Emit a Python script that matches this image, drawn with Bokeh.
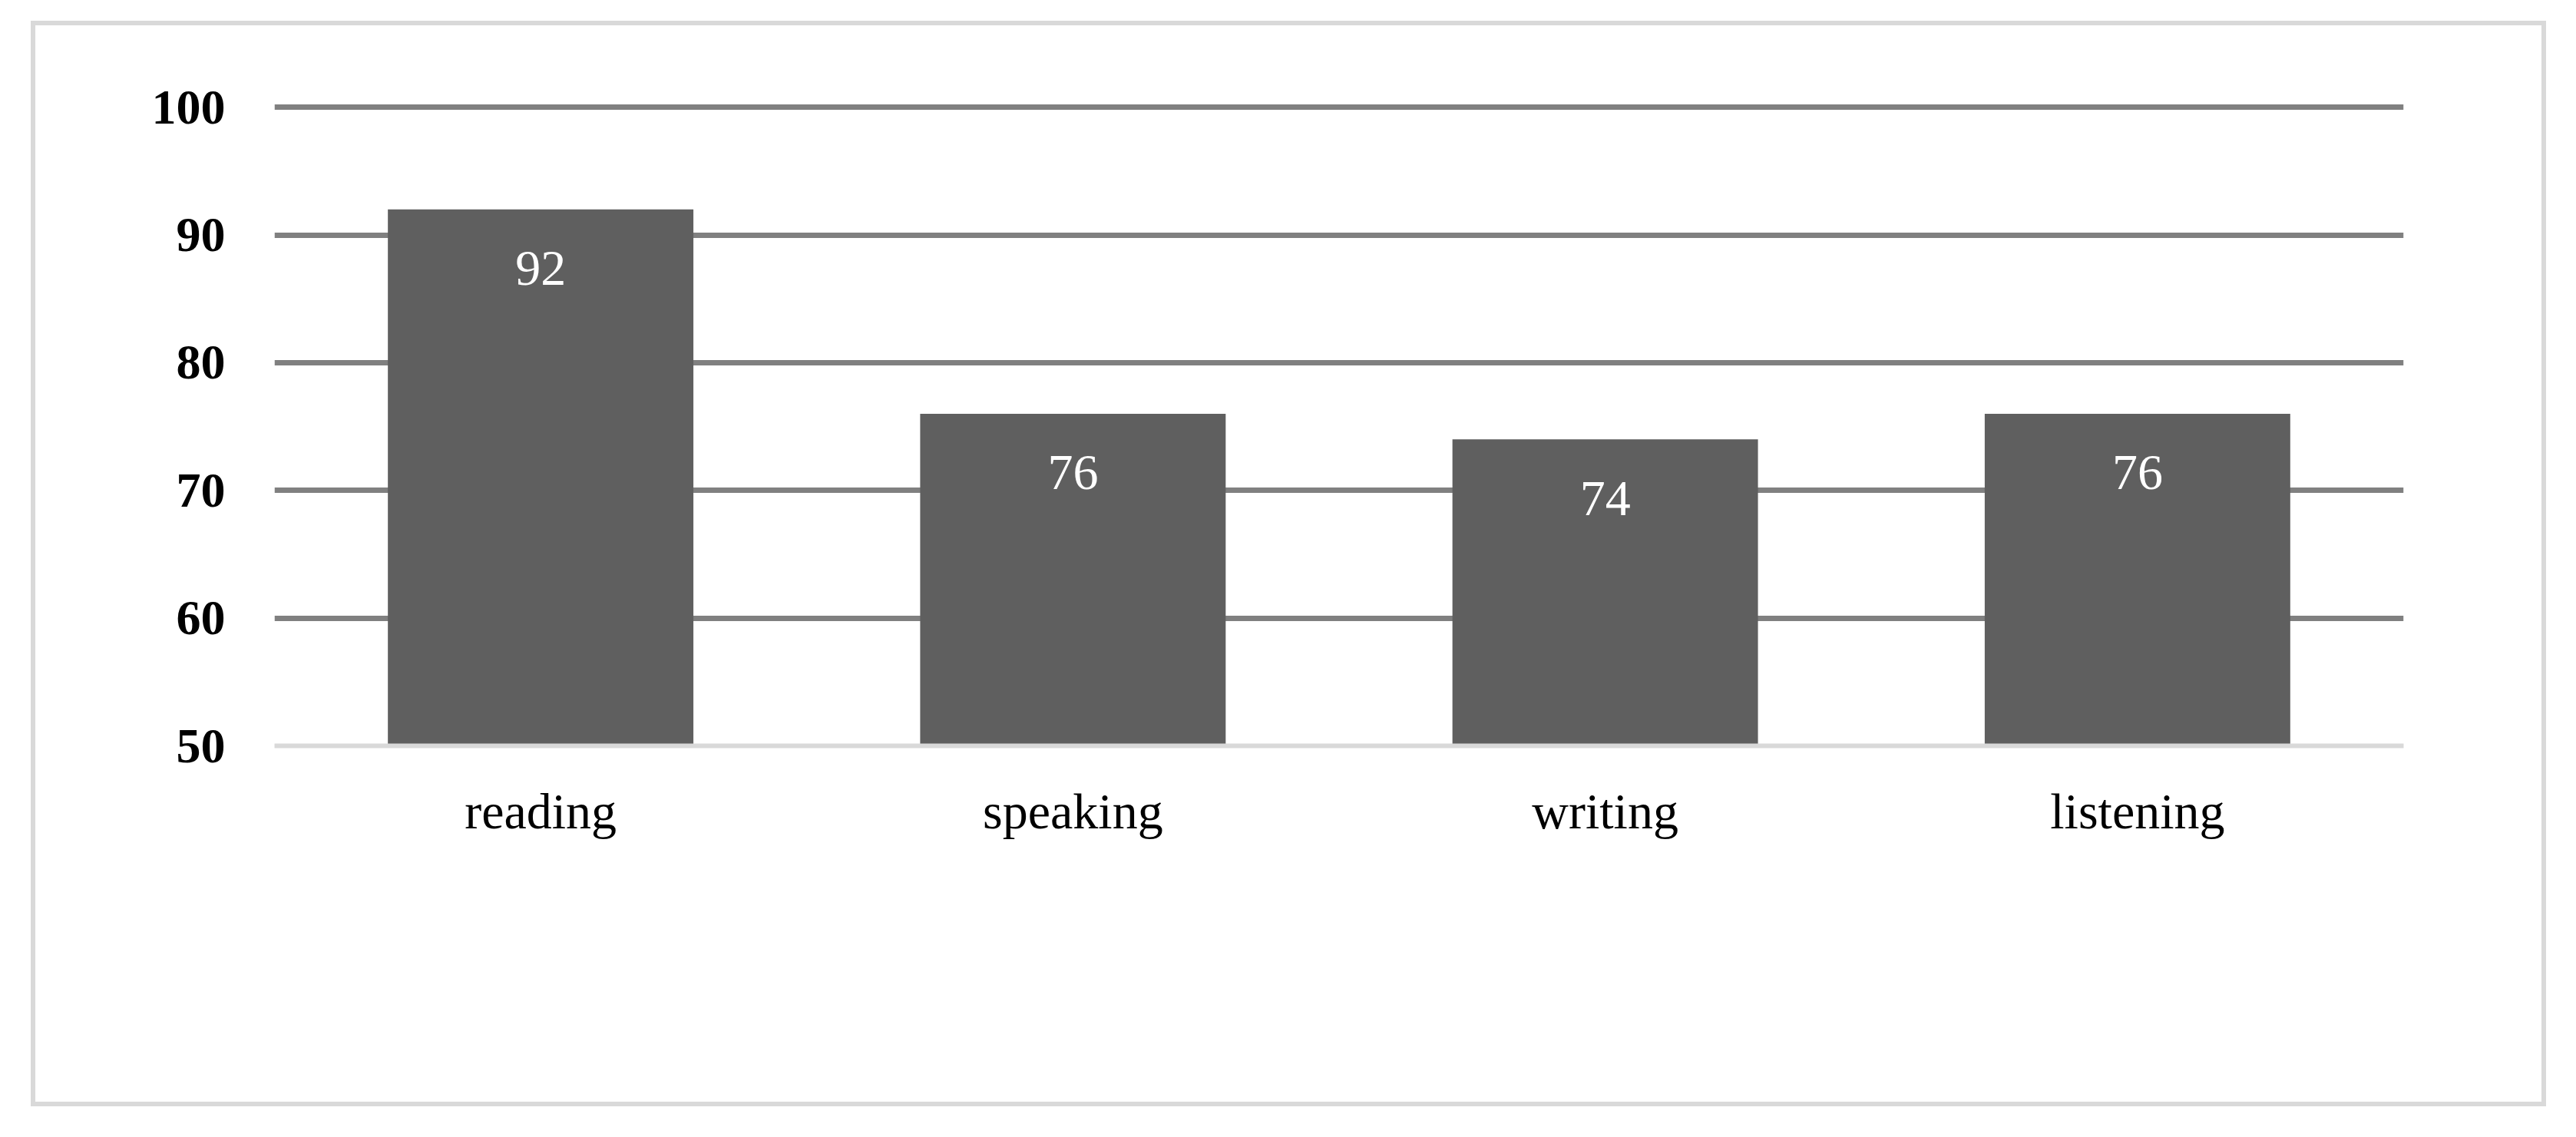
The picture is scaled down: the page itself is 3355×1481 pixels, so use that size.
"""
Skill scores bar chart, Bokeh recreation (gray columns, values inside bars).
"""

from bokeh.core.properties import value
from bokeh.embed import file_html
from bokeh.models import ColumnDataSource, FactorRange, FixedTicker, Range1d
from bokeh.plotting import figure
from bokeh.resources import INLINE

# ---------------------------------------------------------------------------
# Data
# ---------------------------------------------------------------------------
skills = ["reading", "speaking", "writing", "listening"]
scores = [92, 76, 74, 76]
score_labels = [str(s) for s in scores]
y_ticks = [50, 60, 70, 80, 90, 100]

FONT = "Liberation Serif"
BAR_COLOR = "#5f5f5f"
GRID_COLOR = "#808080"
FRAME_GRAY = "#d9d9d9"

source = ColumnDataSource(dict(skill=skills, score=scores, label=score_labels))

# the figure box sits just inside the light-gray chart border (CSS outline)
p = figure(
    x_range=FactorRange(factors=skills, range_padding=0),
    y_range=Range1d(50, 100.25),
    width=3264, height=1402,
    margin=(33, 0, 0, 46),
    output_backend="svg",
    toolbar_location=None,
    min_border_left=311, min_border_right=180,
    min_border_top=102, min_border_bottom=464,
    styles={"outline": f"6px solid {FRAME_GRAY}", "outline-offset": "0px"},
)
p.outline_line_color = None
p.background_fill_color = "white"
p.border_fill_color = "white"

p.vbar(x="skill", top="score", bottom=50, width=0.574, source=source,
       fill_color=BAR_COLOR, line_color=None)

p.text(x="skill", y="score", text="label", source=source,
       text_color="white", text_font=value(FONT), text_font_size="66px",
       text_align="center", text_baseline="middle", y_offset=77)

# grid
p.xgrid.grid_line_color = None
p.ygrid.ticker = FixedTicker(ticks=y_ticks[1:])
p.ygrid.grid_line_color = GRID_COLOR
p.ygrid.grid_line_width = 7

# y axis
p.yaxis.ticker = FixedTicker(ticks=y_ticks)
p.yaxis.axis_line_color = None
p.yaxis.major_tick_line_color = None
p.yaxis.minor_tick_line_color = None
p.yaxis.major_tick_out = 0
p.yaxis.major_label_standoff = 64
p.yaxis.major_label_text_font = FONT
p.yaxis.major_label_text_font_style = "bold"
p.yaxis.major_label_text_font_size = "64px"
p.yaxis.major_label_text_color = "black"

# x axis
p.xaxis.axis_line_color = FRAME_GRAY
p.xaxis.axis_line_width = 6
p.xaxis.major_tick_line_color = None
p.xaxis.minor_tick_line_color = None
p.xaxis.major_tick_out = 0
p.xaxis.major_label_standoff = 48
p.xaxis.major_label_text_font = FONT
p.xaxis.major_label_text_font_size = "66px"
p.xaxis.major_label_text_color = "black"

open("out.html", "w").write(file_html(p, INLINE))
